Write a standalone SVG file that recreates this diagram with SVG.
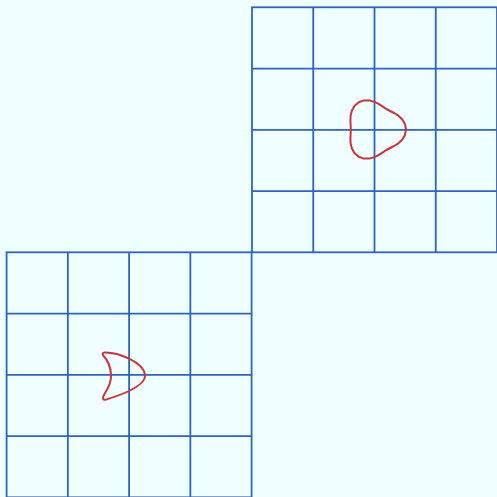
<svg xmlns="http://www.w3.org/2000/svg" width="497" height="497" viewBox="0 0 497 497">
<style>
.grid{fill:none;stroke:#2b63c9;stroke-width:1.8}
.curve{fill:none;stroke:#d0303a;stroke-width:2;stroke-linejoin:round}
</style>
<rect width="497" height="497" fill="#f0ffff"/>
<g id="grid-top-right" class="grid">
<rect x="252" y="7.3" width="245" height="245"/>
<path d="M313.25,7.3V252.3M374.5,7.3V252.3M435.75,7.3V252.3M252,68.55H497M252,129.8H497M252,191.05H497"/>
</g>
<g id="grid-bottom-left" class="grid">
<rect x="6.6" y="252.3" width="245" height="245"/>
<path d="M67.85,252.3V497.3M129.1,252.3V497.3M190.35,252.3V497.3M6.6,313.55H251.6M6.6,374.8H251.6M6.6,436.05H251.6"/>
</g>
<g id="curve-top-right">
<polygon class="curve" points="406,129.5 405,124.1 402.3,119.4 398.4,115.7 394.1,113 390.1,111 386.35,109 382.8,106.7 379,104.2 374.5,101.9 369.4,100.4 363.9,100.4 358.75,102.2 354.6,105.8 351.9,110.5 350.6,115.7 350.4,120.7 350.65,125.3 350.8,129.5 350.65,133.7 350.4,138.3 350.6,143.3 351.9,148.5 354.6,153.2 358.75,156.8 363.9,158.6 369.4,158.6 374.5,157.1 379,154.8 382.8,152.3 386.35,150 390.1,148 394.1,146 398.4,143.3 402.3,139.6 405,134.9"/>
</g>
<g id="curve-bottom-left">
<path class="curve" d="M104.5,352.4 C118,352 143,362 145,374.5 C146.5,386 121,395 106,399.6 C103,400.4 102,398.3 104,395 C109,387 111.5,380 111,374.3 C110.5,366 106.5,359 103.2,355.5 C102,354 102.8,352.5 104.5,352.4 Z"/>
</g>
</svg>
